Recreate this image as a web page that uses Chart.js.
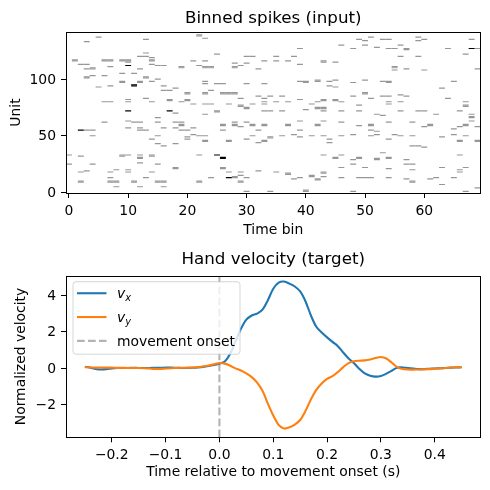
<!DOCTYPE html>
<html lang="en">
<head>
    <meta charset="UTF-8">
    <title>Binned spikes and hand velocity</title>
    <script src="https://cdn.jsdelivr.net/npm/chart.js"></script>
    <style>
        body { margin: 0; background: #fff; }
        .panel { position: absolute; left: 0; width: 490px; height: 245px; }
    </style>
</head>
<body>
<div class="panel" style="top:0"><canvas id="spikeChart"></canvas></div>
<div class="panel" style="top:245px"><canvas id="velChart"></canvas></div>
<script>
    Chart.defaults.font.family = '"DejaVu Sans", sans-serif';
    Chart.defaults.font.size = 13.9;
    Chart.defaults.color = '#000';

    // binned spikes, [time bin, unit] with one spike in the bin
    const spikesOne = [
        [3,133],[5,137],[13,135],[22,138],[22,139],[23,136],
        [1,116],[1,117],[2,113],[3,113],[3,109],[4,109],[4,110],
        [6,116],[6,117],[7,116],[7,117],[7,111],
        [9,116],[9,117],[10,116],[10,117],[10,115],
        [12,120],[13,120],[13,123],[14,119],[14,116],[14,117],[14,113],[15,112],[16,112],
        [12,109],[9,105],[11,105],[4,103],[3,101],[3,102],[6,103],[13,101],[13,102],
        [9,97],[9,98],[12,97],[12,98],[14,98],[15,100],
        [5,93],[7,94],[16,94],[16,90],[17,90],[18,92],[20,87],[20,88],
        [21,116],[22,112],[19,110],[19,111],
        [23,116],[23,110],[23,111],[24,110],[24,111],[23,98],[23,96],[23,87],[23,88],[23,78],[23,69],
        [6,80],[7,80],[10,82],[10,80],[13,83],[14,80],[17,81],[17,82],[19,80],[20,81],[20,82],[21,78],[18,70],
        [46,130],[39,127],[25,122],[30,120],[31,120],[35,120],[38,120],
        [28,114],[29,112],[30,114],[33,116],[35,116],[37,116],[39,113],[43,115],[43,116],[45,115],
        [28,110],[28,111],[32,109],
        [25,96],[26,96],[30,96],[33,96],[39,98],[40,97],[40,98],[42,98],[42,99],[44,98],[45,99],[44,94],[45,93],
        [24,90],[26,87],[26,88],[27,87],[27,88],[28,87],[28,88],
        [29,83],[32,85],[33,83],[34,85],[36,85],[39,82],
        [33,80],[35,80],[37,80],[42,80],[43,81],[43,82],[45,81],[45,82],[46,80],
        [24,78],[27,78],[29,77],[31,78],[33,78],[41,78],[29,76],[30,74],[30,75],
        [33,72],[34,72],[36,72],[40,73],[42,74],[42,75],[43,74],[43,75],[43,72],[46,72],[25,71],[25,72],
        [49,135],[51,137],[50,134],[53,135],[54,135],[59,137],[59,134],[60,135],[68,135],
        [50,130],[48,127],[52,128],[54,127],[55,127],[56,130],[57,126],[57,127],
        [56,120],[59,120],[64,127],[67,122],[69,127],
        [55,110],[55,111],[55,108],[57,109],[60,108],[69,109],
        [48,97],[50,99],[53,98],[54,97],[54,98],[65,98],[63,92],
        [50,87],[50,88],[48,85],[51,83],[53,85],[54,85],[56,86],[57,85],[64,83],
        [49,77],[54,80],[54,78],[56,80],[67,80],[67,76],[67,77],
        [49,72],[52,69],[53,68],[56,72],[59,72],[60,72],[62,69],[66,72],[68,69],
        [6,62],[10,63],[11,62],[12,62],[15,66],[15,62],[18,62],[19,62],[19,59],[19,60],
        [3,55],[4,55],[10,57],[12,57],[12,55],[13,55],[16,57],[18,57],[19,55],[20,55],[21,57],
        [4,50],[15,50],[14,47],[20,49],[21,51],[22,50],[23,50],[20,47],[23,45],[23,46],
        [15,43],[16,41],[18,43],
        [0,33],[2,32],[9,32],[9,33],[10,33],[12,33],[12,30],[12,31],[14,32],[14,33],[22,33],
        [12,26],[15,25],[0,25],[4,25],
        [2,18],[3,19],[7,18],[8,20],[10,20],[10,18],[14,18],[18,21],[18,22],
        [7,13],[13,13],
        [2,9],[2,10],[7,9],[7,10],[8,9],[8,10],[11,9],[11,10],[15,9],[15,10],[16,9],[16,10],[22,9],[22,10],
        [8,5],[12,5],[16,5],
        [26,59],[26,60],[28,59],[28,60],[28,62],[29,58],[30,62],[31,59],[31,60],[33,59],[33,60],
        [32,55],[26,55],[37,59],[37,60],[39,63],[39,55],[42,59],[42,60],[43,63],[46,62],
        [27,45],[27,46],[30,47],[31,50],[32,44],[33,45],[33,46],[34,48],[34,49],
        [36,50],[38,51],[39,49],[41,50],[43,50],[44,47],[44,44],[46,50],
        [43,33],[45,30],[45,31],[46,33],
        [26,22],[26,21],[27,18],[29,18],[32,19],[35,18],[29,15],[28,14],[28,13],
        [24,13],[29,9],[29,10],[30,13],[37,16],[37,17],[38,12],[39,13],[41,14],[41,15],
        [42,11],[42,12],[43,17],[43,18],[43,14],[46,22],[46,13],
        [30,1],[34,1],[40,1],[40,2],
        [68,66],[68,67],
        [49,59],[51,59],[51,60],[51,55],[52,54],[51,50],[52,51],
        [54,62],[58,62],[60,58],[61,59],[61,60],[65,56],[66,58],[67,59],[67,60],[68,63],[69,58],
        [48,51],[55,51],[56,50],[54,47],[58,50],[63,49],[65,51],[67,50],
        [66,45],[66,46],[69,45],[69,46],
        [58,41],[59,41],[60,40],[53,35],
        [49,30],[49,31],[48,29],[48,25],[52,29],[52,30],[54,30],[54,31],[57,29],[57,25],[58,25],[58,20],
        [66,33],[50,22],[54,21],[63,22],[67,22],[66,20],[66,18],
        [49,13],[50,13],[51,13],[54,13],[57,12],[58,9],[58,10],[61,12],[62,13],[63,7],[65,13],
        [48,1],[67,1],[69,4]
    ];
    // bins holding two spikes (drawn black)
    const spikesTwo = [
        [10,112],[11,94],[11,95],[10,72],[17,72],[2,55],[68,127],[25,33],[26,30],[26,31],[27,13]
    ];
    const binTicks = [0, 10, 20, 30, 40, 50, 60];
    const unitTicks = [0, 50, 100];

    // hand velocity around movement onset
    const velTime = [
        -0.25, -0.24, -0.23, -0.22, -0.21, -0.20, -0.19, -0.18, -0.17, -0.16,
        -0.15, -0.14, -0.13, -0.12, -0.11, -0.10, -0.09, -0.08, -0.07, -0.06,
        -0.05, -0.04, -0.03, -0.02, -0.01, 0.00, 0.01, 0.02, 0.03, 0.04,
        0.05, 0.06, 0.07, 0.08, 0.09, 0.10, 0.11, 0.12, 0.13, 0.14,
        0.15, 0.16, 0.17, 0.18, 0.19, 0.20, 0.21, 0.22, 0.23, 0.24,
        0.25, 0.26, 0.27, 0.28, 0.29, 0.30, 0.31, 0.32, 0.33, 0.34,
        0.35, 0.36, 0.37, 0.38, 0.39, 0.40, 0.41, 0.42, 0.43, 0.44, 0.45
    ];
    const velX = [
        0.07, 0.02, -0.05, -0.08, -0.06, -0.02, 0.00, 0.00, 0.00, 0.01,
        0.00, 0.00, 0.00, 0.01, 0.01, 0.02, 0.02, 0.01, 0.00, 0.00,
        0.01, 0.03, 0.06, 0.11, 0.17, 0.24, 0.36, 0.78, 1.47, 2.15,
        2.65, 2.88, 2.98, 3.20, 3.72, 4.35, 4.68, 4.74, 4.63, 4.47,
        4.20, 3.65, 2.88, 2.26, 1.95, 1.68, 1.43, 1.20, 0.85, 0.52,
        0.26, -0.05, -0.30, -0.42, -0.47, -0.44, -0.31, -0.15, 0.02, 0.03,
        0.00, -0.03, -0.06, -0.06, -0.04, -0.03, -0.01, 0.00, 0.02, 0.03, 0.04
    ];
    const velY = [
        0.05, 0.03, 0.02, 0.02, 0.02, 0.02, 0.01, 0.01, 0.00, 0.00,
        0.00, -0.01, -0.03, -0.05, -0.05, -0.03, -0.01, 0.00, 0.01, 0.02,
        0.03, 0.05, 0.08, 0.14, 0.20, 0.27, 0.24, 0.12, -0.02, -0.14,
        -0.30, -0.50, -0.80, -1.25, -1.95, -2.60, -3.12, -3.32, -3.25, -3.10,
        -2.85, -2.35, -1.72, -1.20, -0.85, -0.60, -0.45, -0.22, 0.05, 0.27,
        0.37, 0.40, 0.42, 0.47, 0.55, 0.60, 0.52, 0.30, 0.05, -0.05,
        -0.08, -0.09, -0.08, -0.07, -0.06, -0.04, -0.02, 0.00, 0.02, 0.04, 0.05
    ];
    const onsetTime = 0;
    const velXTicks = [-0.2, -0.1, 0, 0.1, 0.2, 0.3, 0.4];
    const velXTickLabels = ['\u22120.2', '\u22120.1', '0.0', '0.1', '0.2', '0.3', '0.4'];
    const velYTicks = [-2, 0, 2, 4];
    const velYTickLabels = ['\u22122', '0', '2', '4'];
    const velYMin = -3.8, velYMax = 5.06;

    // black box round the plot area (all four spines)
    const frame = {
        id: 'frame',
        afterDatasetsDraw(chart) {
            const a = chart.chartArea, ctx = chart.ctx;
            ctx.save();
            ctx.strokeStyle = '#000';
            ctx.lineWidth = 1;
            ctx.strokeRect(Math.round(a.left) + 0.5, Math.round(a.top) + 0.5,
                Math.round(a.right) - Math.round(a.left) - 1, Math.round(a.bottom) - Math.round(a.top));
            ctx.restore();
        }
    };

    function axis(min, max, ticks, labels, size, titleText, titlePad) {
        return {
            type: 'linear', min: min, max: max,
            afterBuildTicks: s => { s.ticks = ticks.map(v => ({value: v})); },
            afterFit: s => { if (s.isHorizontal()) s.height = size; else s.width = size; },
            grid: {drawOnChartArea: false, drawTicks: true, tickLength: 5, tickColor: '#000', tickWidth: 1},
            border: {display: false},
            ticks: {padding: 5, autoSkip: false, maxRotation: 0, color: '#000',
                labelOffset: (size > 60 ? 1 : 0),
                callback: (v, i) => labels[i]},
            title: {display: true, text: titleText, padding: titlePad, color: '#000'}
        };
    }

    const halfBinPx = c => { const s = c.chart.scales.x; return Math.abs(s.getPixelForValue(0.5) - s.getPixelForValue(0)); };
    const unitPx = c => { const s = c.chart.scales.y; return Math.abs(s.getPixelForValue(1) - s.getPixelForValue(0)) * 1.05; };

    function spikeSet(list, color) {
        return {
            data: list.map(p => ({x: p[0], y: p[1]})),
            pointStyle: 'line',
            pointRadius: halfBinPx,
            pointHoverRadius: halfBinPx,
            pointBorderWidth: unitPx,
            pointBorderColor: color,
            pointBackgroundColor: color
        };
    }

    new Chart(document.getElementById('spikeChart'), {
        type: 'scatter',
        data: { datasets: [spikeSet(spikesTwo, '#000'), spikeSet(spikesOne, '#969696')] },
        options: {
            animation: false, responsive: true, maintainAspectRatio: false, events: [],
            layout: {padding: {left: 0, right: 9.5, top: 0, bottom: 0}},
            plugins: {
                legend: {display: false}, tooltip: {enabled: false},
                title: {display: true, fullSize: false, text: 'Binned spikes (input)', color: '#000',
                    font: {size: 16.7, weight: 'normal'}, padding: {top: 9, bottom: 3}}
            },
            scales: {
                x: axis(-0.5, 69.5, binTicks, binTicks.map(String), 52, 'Time bin', {top: 0, bottom: 6}),
                y: axis(-0.5, 141.5, unitTicks, unitTicks.map(String), 66, 'Unit', {top: 8, bottom: 0})
            }
        },
        plugins: [frame]
    });

    // legend inside the upper left corner, v_x style labels get a subscript
    const velLegend = {
        id: 'velLegend',
        afterDatasetsDraw(chart) {
            const ctx = chart.ctx, a = chart.chartArea;
            const x0 = a.left + 7, y0 = a.top + 6;
            ctx.save();
            ctx.beginPath();
            ctx.roundRect(x0, y0, 167, 72.5, 3);
            ctx.fillStyle = 'rgba(255,255,255,0.8)';
            ctx.fill();
            ctx.lineWidth = 1;
            ctx.strokeStyle = 'rgba(204,204,204,0.8)';
            ctx.stroke();
            chart.data.datasets.forEach((ds, i) => {
                const rowY = y0 + 11.5 + i * 23.8;
                ctx.beginPath();
                ctx.setLineDash(ds.borderDash || []);
                ctx.strokeStyle = ds.borderColor;
                ctx.lineWidth = ds.borderWidth;
                ctx.moveTo(x0 + 4, rowY);
                ctx.lineTo(x0 + 33.5, rowY);
                ctx.stroke();
                ctx.setLineDash([]);
                ctx.fillStyle = '#000';
                ctx.textBaseline = 'alphabetic';
                const tx = x0 + 44, base = rowY + 5;
                if (ds.label.includes('_')) {
                    const [main, sub] = ds.label.split('_');
                    ctx.font = 'italic 13.9px "DejaVu Sans"';
                    ctx.fillText(main, tx, base);
                    const w = ctx.measureText(main).width;
                    ctx.font = 'italic 9.8px "DejaVu Sans"';
                    ctx.fillText(sub, tx + w, base + 3);
                } else {
                    ctx.font = '13.9px "DejaVu Sans"';
                    ctx.fillText(ds.label, tx, base);
                }
            });
            ctx.restore();
        }
    };

    new Chart(document.getElementById('velChart'), {
        type: 'line',
        data: {
            datasets: [
                {label: 'v_x', data: velTime.map((t, i) => ({x: t, y: velX[i]})),
                    borderColor: '#1f77b4', borderWidth: 2.1, pointRadius: 0, tension: 0.3, order: 3},
                {label: 'v_y', data: velTime.map((t, i) => ({x: t, y: velY[i]})),
                    borderColor: '#ff7f0e', borderWidth: 2.1, pointRadius: 0, tension: 0.3, order: 2},
                {label: 'movement onset', data: [{x: onsetTime, y: velYMin}, {x: onsetTime, y: velYMax}],
                    borderColor: 'rgba(128,128,128,0.6)', borderWidth: 2.1, borderDash: [7.7, 3.3],
                    pointRadius: 0, order: 4}
            ]
        },
        options: {
            animation: false, responsive: true, maintainAspectRatio: false, events: [],
            layout: {padding: {left: 0, right: 9.5, top: 0, bottom: 0}},
            plugins: {
                legend: {display: false}, tooltip: {enabled: false},
                title: {display: true, fullSize: false, text: 'Hand velocity (target)', color: '#000',
                    font: {size: 16.7, weight: 'normal'}, padding: {top: 5, bottom: 5.7}}
            },
            scales: {
                x: axis(-0.285, 0.485, velXTicks, velXTickLabels, 52.7,
                    'Time relative to movement onset (s)', {top: 0, bottom: 9}),
                y: axis(velYMin, velYMax, velYTicks, velYTickLabels, 66,
                    'Normalized velocity', {top: 13, bottom: 0})
            }
        },
        plugins: [frame, velLegend]
    });
</script>
</body>
</html>
